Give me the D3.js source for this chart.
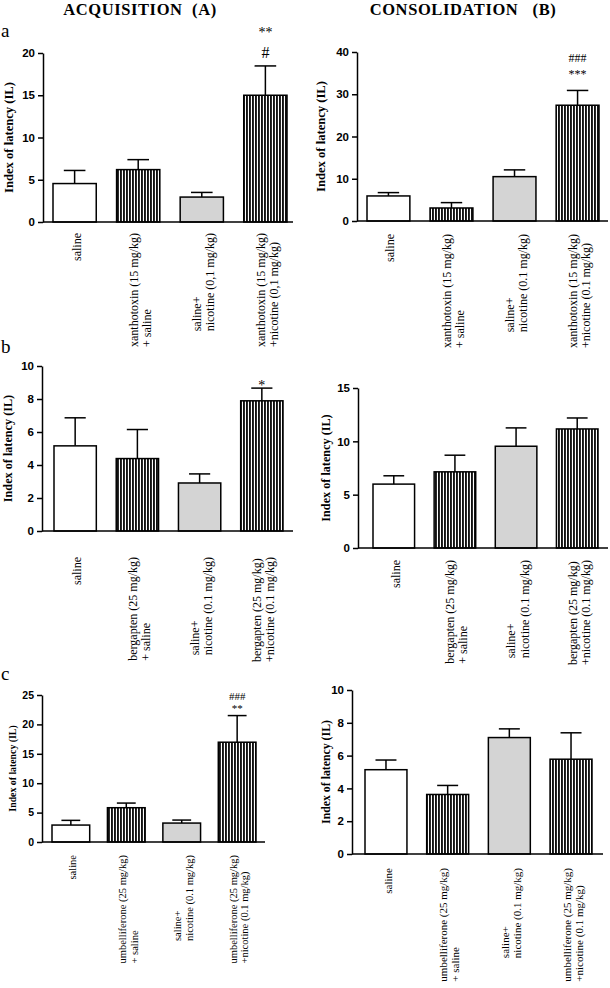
<!DOCTYPE html>
<html><head><meta charset="utf-8">
<script src="https://cdn.jsdelivr.net/npm/d3@7"></script>
<style>body{margin:0;background:#fff}</style>
</head><body>
<svg id="c" width="610" height="988"></svg>
<script>
// ---------- DATA ----------
const categories = ["saline", "compound+saline", "saline+nicotine", "compound+nicotine"];

const xanAcqMean = [4.55, 6.2, 2.95, 15.0];
const xanAcqSem  = [1.55, 1.18, 0.55, 3.47];
const xanConMean = [5.93, 3.08, 10.5, 27.4];
const xanConSem  = [0.79, 1.27, 1.6, 3.5];
const berAcqMean = [5.16, 4.39, 2.91, 7.89];
const berAcqSem  = [1.7, 1.76, 0.55, 0.77];
const berConMean = [5.99, 7.14, 9.54, 11.16];
const berConSem  = [0.78, 1.56, 1.72, 1.03];
const umbAcqMean = [2.88, 5.83, 3.22, 16.97];
const umbAcqSem  = [0.8, 0.79, 0.51, 4.53];
const umbConMean = [5.14, 3.63, 7.1, 5.78];
const umbConSem  = [0.59, 0.55, 0.53, 1.61];

const ticksXanAcq = [0, 5, 10, 15, 20];
const ticksXanCon = [0, 10, 20, 30, 40];
const ticksBerAcq = [0, 2, 4, 6, 8, 10];
const ticksBerCon = [0, 5, 10, 15];
const ticksUmbAcq = [0, 5, 10, 15, 20, 25];
const ticksUmbCon = [0, 2, 4, 6, 8, 10];

const xanAcqLabels = [["saline"], ["xanthotoxin (15 mg/kg)", "+ saline"], ["saline+", "nicotine (0,1 mg/kg)"], ["xanthotoxin (15 mg/kg)", "+nicotine (0,1 mg/kg)"]];
const xanConLabels = [["saline"], ["xanthotoxin (15 mg/kg)", "+ saline"], ["saline+", "nicotine (0.1 mg/kg)"], ["xanthotoxin (15 mg/kg)", "+nicotine (0.1 mg/kg)"]];
const berLabels = [["saline"], ["bergapten (25 mg/kg)", "+ saline"], ["saline+", "nicotine (0.1 mg/kg)"], ["bergapten (25 mg/kg)", "+nicotine (0.1 mg/kg)"]];
const umbLabels = [["saline"], ["umbelliferone (25 mg/kg)", "+ saline"], ["saline+", "nicotine (0.1 mg/kg)"], ["umbelliferone (25 mg/kg)", "+nicotine (0.1 mg/kg)"]];

const xanAcqNotes = ["#", "**"];
const xanConNotes = ["***", "###"];
const berAcqNotes = ["*"];
const umbAcqNotes = ["**", "###"];

const yTitle = "Index of latency (IL)";
const columnTitles = ["ACQUISITION  (A)", "CONSOLIDATION   (B)"];
const rowLetters = ["a", "b", "c"];

// ---------- LAYOUT ----------
const panels = [
  {mean: xanAcqMean, sem: xanAcqSem, ticks: ticksXanAcq, labels: xanAcqLabels, notes: xanAcqNotes,
   axisX: 43, yTop: 53, y0: 222, barL: 53, barR: 287, axisEnd: 293, labelTop: 233, labelFs: 12,
   yLabelX: 9, yLabelFs: 12.6, tickFs: 11.5, noteBar: 3, noteOff: [-7.5, -29], noteFs: [16, 14]},
  {mean: xanConMean, sem: xanConSem, ticks: ticksXanCon, labels: xanConLabels, notes: xanConNotes,
   axisX: 357, yTop: 52, y0: 221, barL: 367, barR: 599, axisEnd: 608, labelTop: 234, labelFs: 12,
   yLabelX: 321, yLabelFs: 12.6, tickFs: 11.5, noteBar: 3, noteOff: [-12, -28], noteFs: [12, 12]},
  {mean: berAcqMean, sem: berAcqSem, ticks: ticksBerAcq, labels: berLabels, notes: berAcqNotes,
   axisX: 42, yTop: 366, y0: 531, barL: 54, barR: 283, axisEnd: 293, labelTop: 557, labelFs: 12,
   yLabelX: 8, yLabelFs: 12.2, tickFs: 11.5, noteBar: 3, noteOff: [1.5], noteFs: [14]},
  {mean: berConMean, sem: berConSem, ticks: ticksBerCon, labels: berLabels, notes: [],
   axisX: 358, yTop: 388, y0: 548, barL: 373, barR: 598, axisEnd: 608, labelTop: 560, labelFs: 12,
   yLabelX: 326, yLabelFs: 12.2, tickFs: 11.5, noteBar: 3, noteOff: [], noteFs: []},
  {mean: umbAcqMean, sem: umbAcqSem, ticks: ticksUmbAcq, labels: umbLabels, notes: umbAcqNotes,
   axisX: 42, yTop: 695, y0: 842, barL: 52, barR: 256, axisEnd: 265, labelTop: 855, labelFs: 10.5,
   yLabelX: 13, yLabelFs: 9.8, tickFs: 10.5, noteBar: 3, noteOff: [-4, -15.5], noteFs: [11, 11]},
  {mean: umbConMean, sem: umbConSem, ticks: ticksUmbCon, labels: umbLabels, notes: [],
   axisX: 352, yTop: 690, y0: 854, barL: 365, barR: 592, axisEnd: 603, labelTop: 868, labelFs: 11,
   yLabelX: 326, yLabelFs: 11.8, tickFs: 11.5, noteBar: 3, noteOff: [], noteFs: []}
];

const fills = ["#ffffff", "url(#hatch)", "#d4d4d4", "url(#hatch)"];
const serif = "'Liberation Serif','Times New Roman',serif";
const sans = "'Liberation Sans',Arial,sans-serif";

const svg = d3.select("#c");
svg.append("rect").attr("width", 610).attr("height", 988).attr("fill", "#fff");

const defs = svg.append("defs");
const pat = defs.append("pattern").attr("id", "hatch").attr("patternUnits", "userSpaceOnUse")
  .attr("width", 3).attr("height", 10);
pat.append("rect").attr("width", 3).attr("height", 10).attr("fill", "#fff");
pat.append("rect").attr("width", 1.9).attr("height", 10).attr("fill", "#111");

// titles
const titleX = [140, 463];
columnTitles.forEach((t, i) => {
  svg.append("text").attr("x", titleX[i]).attr("y", 14.5).attr("text-anchor", "middle")
    .attr("font-family", serif).attr("font-weight", "bold").attr("font-size", 16.5)
    .attr("letter-spacing", 0.6)
    .attr("xml:space", "preserve").style("white-space", "pre").text(t);
});
const letterY = [37, 353, 680];
rowLetters.forEach((t, i) => {
  svg.append("text").attr("x", 1).attr("y", letterY[i]).attr("font-family", serif)
    .attr("font-size", 19).text(t);
});

panels.forEach(p => {
  const g = svg.append("g");
  const yMax = p.ticks[p.ticks.length - 1];
  const y = d3.scaleLinear().domain([0, yMax]).range([p.y0, p.yTop]);
  const x = d3.scaleBand().domain(categories).range([p.barL, p.barR]).paddingInner(0.32).paddingOuter(0);
  const bw = x.bandwidth();

  // error bars
  categories.forEach((c, i) => {
    const cx = x(c) + bw / 2;
    const top = y(p.mean[i] + p.sem[i]);
    g.append("line").attr("x1", cx).attr("x2", cx).attr("y1", y(p.mean[i])).attr("y2", top)
      .attr("stroke", "#000").attr("stroke-width", 1.5);
    g.append("line").attr("x1", cx - bw / 4).attr("x2", cx + bw / 4).attr("y1", top).attr("y2", top)
      .attr("stroke", "#000").attr("stroke-width", 1.5);
  });

  // bars
  g.selectAll("rect.bar").data(categories).join("rect").attr("class", "bar")
    .attr("x", d => x(d)).attr("width", bw)
    .attr("y", (d, i) => y(p.mean[i])).attr("height", (d, i) => p.y0 - y(p.mean[i]))
    .attr("fill", (d, i) => fills[i]).attr("stroke", "#000").attr("stroke-width", 1.5);

  // y axis
  const ax = g.append("g").attr("transform", `translate(${p.axisX},0)`)
    .call(d3.axisLeft(y).tickValues(p.ticks).tickSize(5).tickSizeOuter(0).tickPadding(3).tickFormat(d3.format("d")));
  ax.attr("font-family", sans).attr("font-weight", "bold").attr("font-size", p.tickFs);
  ax.select(".domain").attr("stroke-width", 1.5);
  ax.selectAll(".tick line").attr("stroke-width", 1.5);
  ax.selectAll(".tick text").style("font-family", sans).style("font-weight", "bold")
    .style("font-size", p.tickFs + "px").attr("fill", "#000");

  // x axis line
  g.append("line").attr("x1", p.axisX).attr("x2", p.axisEnd).attr("y1", p.y0).attr("y2", p.y0)
    .attr("stroke", "#000").attr("stroke-width", 1.5);

  // y title
  const cy = (p.y0 + p.yTop) / 2;
  g.append("text").attr("transform", `translate(${p.yLabelX + 0.33 * p.yLabelFs},${cy}) rotate(-90)`)
    .attr("text-anchor", "middle").attr("font-family", serif).attr("font-weight", "bold")
    .attr("font-size", p.yLabelFs).text(yTitle);

  // x labels
  const ls = p.labelFs * 1.1;
  categories.forEach((c, i) => {
    const lines = p.labels[i];
    const grp = g.append("g");
    const texts = lines.map(l => grp.append("text").attr("font-family", serif)
      .attr("font-size", p.labelFs).attr("text-anchor", "start").text(l));
    const maxLen = d3.max(texts, t => t.node().getComputedTextLength());
    const bottom = p.labelTop + maxLen;
    const cx = x(c) + bw / 2 + 2;
    texts.forEach((t, k) => {
      const lc = cx + (k - (lines.length - 1) / 2) * ls;
      t.attr("transform", `translate(${lc + 0.33 * p.labelFs},${bottom}) rotate(-90)`);
    });
  });

  // significance notes
  p.notes.forEach((n, k) => {
    const c = categories[p.noteBar];
    const cx = x(c) + bw / 2;
    const top = y(p.mean[p.noteBar] + p.sem[p.noteBar]);
    g.append("text").attr("x", cx).attr("y", top + p.noteOff[k]).attr("text-anchor", "middle")
      .attr("font-family", serif).attr("font-size", p.noteFs[k]).attr("fill", "#000").text(n);
  });
});
</script>
</body></html>
